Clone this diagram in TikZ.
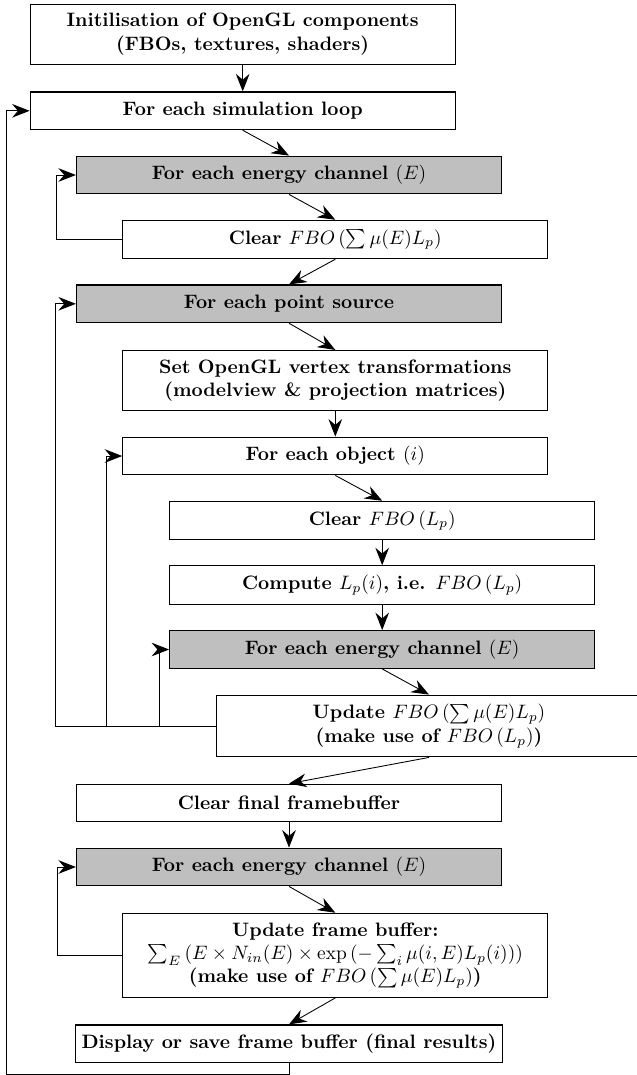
\documentclass[tikz,border=0pt]{standalone}
\usetikzlibrary{arrows.meta}
\begin{document}
\begin{tikzpicture}[x=0.515pt,y=-0.515pt,
  box/.style={draw, line width=0.6pt, minimum width=218.9pt, minimum height=19.4pt, align=center, inner xsep=3pt, inner ysep=4.7pt, fill=white, font=\bfseries},
  gbox/.style={box, fill=gray!50},
  arr/.style={-{Stealth[length=9pt,width=7pt,inset=3pt]}, line width=0.45pt}]
\useasboundingbox (0,0) rectangle (637,1075);
\node[box] (init) at (242.7,34.2) {Initilisation of OpenGL components\\(FBOs, textures, shaders)};
\node[box] (sim) at (242.7,110.8) {For each simulation loop};
\node[gbox] (e1) at (289,175) {For each energy channel $(E)$};
\node[box] (clr) at (335.3,239.5) {Clear $FBO\,(\sum\mu(E)L_p)$};
\node[gbox] (ps) at (289,303.8) {For each point source};
\node[box] (gl) at (335.3,380.5) {Set OpenGL vertex transformations\\(modelview \& projection matrices)};
\node[box] (obj) at (335.3,456) {For each object $(i)$};
\node[box] (clp) at (382.2,520.5) {Clear $FBO\,(L_p)$};
\node[box] (comp) at (382.2,585) {Compute $L_p(i)$, i.e. $FBO\,(L_p)$};
\node[gbox] (e2) at (382.2,649.5) {For each energy channel $(E)$};
\node[box] (upd) at (429,726) {Update $FBO\,(\sum\mu(E)L_p)$\\(make use of $FBO\,(L_p)$)};
\node[box] (cff) at (289,803) {Clear final framebuffer};
\node[gbox] (e3) at (289,867) {For each energy channel $(E)$};
\node[box] (ufb) at (335.3,955.3) {Update frame buffer:\\$\sum_E\,(E\times N_{in}(E)\times\exp\,(-\sum_i\mu(i,E)L_p(i)))$\\(make use of $FBO\,(\sum\mu(E)L_p)$)};
\node[box] (disp) at (289,1043.8) {Display or save frame buffer (final results)};

\coordinate (lo) at (6,1074);
\coordinate (l1) at (56,0);
\coordinate (l2) at (55,0);
\coordinate (l3) at (106.5,0);
\coordinate (l4) at (159,0);
\coordinate (l5) at (57.7,0);

\draw[arr] (init.south) -- (sim.north);
\draw[arr] (sim.south) -- (e1.north);
\draw[arr] (e1.south) -- (clr.north);
\draw[arr] (clr.south) -- (ps.north);
\draw[arr] (ps.south) -- (gl.north);
\draw[arr] (gl.south) -- (obj.north);
\draw[arr] (obj.south) -- (clp.north);
\draw[arr] (clp.south) -- (comp.north);
\draw[arr] (comp.south) -- (e2.north);
\draw[arr] (e2.south) -- (upd.north);
\draw[arr] (upd.south) -- (cff.north);
\draw[arr] (cff.south) -- (e3.north);
\draw[arr] (e3.south) -- (ufb.north);
\draw[arr] (ufb.south) -- (disp.north);

\draw[arr] (disp.south) |- (lo) |- (sim.west);
\draw[arr] (clr.west) -- (clr.west -| l1) |- (e1.west);
\draw[arr] (upd.west) -- (upd.west -| l2) |- (ps.west);
\draw[arr] (upd.west -| l3) |- (obj.west);
\draw[arr] (upd.west -| l4) |- (e2.west);
\draw[arr] (ufb.west) -- (ufb.west -| l5) |- (e3.west);
\end{tikzpicture}
\end{document}
